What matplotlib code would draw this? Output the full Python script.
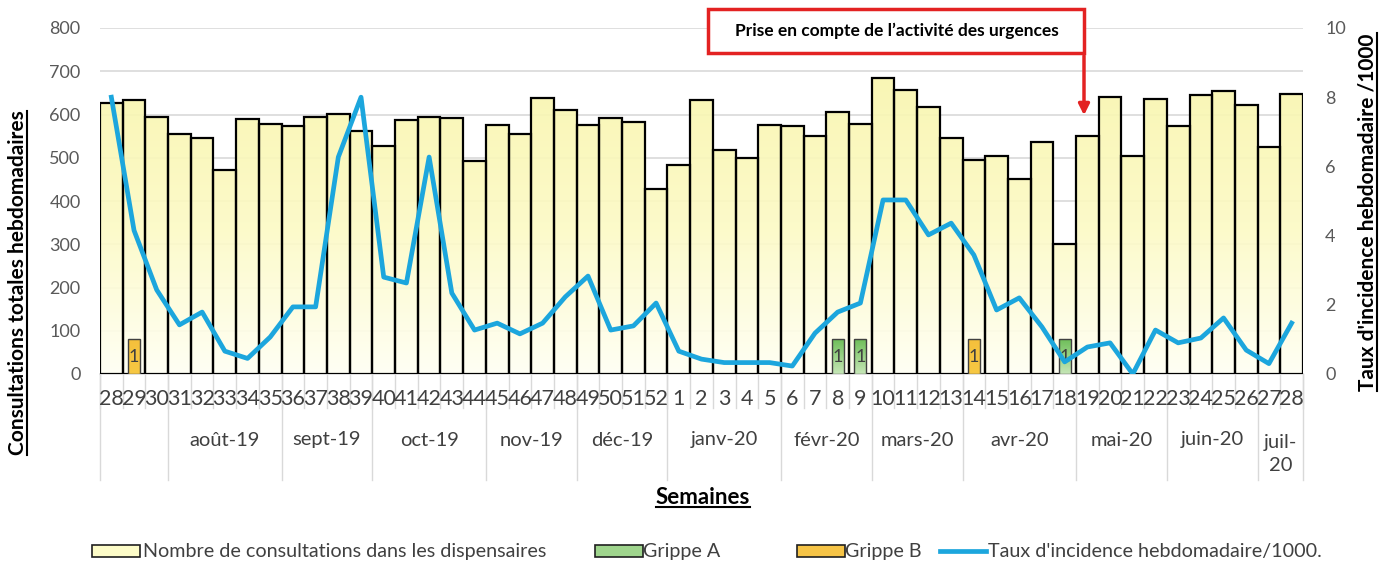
import numpy as np
import matplotlib
matplotlib.use('Agg')
import matplotlib.pyplot as plt
from matplotlib.path import Path
from matplotlib.patches import PathPatch, Rectangle, FancyArrowPatch
from matplotlib.colors import LinearSegmentedColormap
from matplotlib.lines import Line2D

plt.rcParams['font.family'] = ['Lato', 'DejaVu Sans']

# semaines 28/2019 -> 28/2020
weeks = [str(w) for w in range(28, 53)] + [str(w) for w in range(1, 29)]
consultations = [627, 633, 594, 555, 545, 472, 590, 577, 573, 595, 602, 563, 528,
                 587, 594, 593, 493, 576, 556, 637, 610, 575, 593, 583, 428,
                 484, 633, 519, 500, 575, 573, 550, 605, 579, 684, 657, 617, 546,
                 495, 505, 450, 537, 300, 550, 640, 504, 636, 573, 644, 654, 622,
                 525, 647]
incidence = [8.0, 4.15, 2.43, 1.42, 1.79, 0.66, 0.45, 1.07, 1.94, 1.94, 6.27, 8.0,
             2.8, 2.63, 6.27, 2.34, 1.27, 1.47, 1.16, 1.47, 2.23, 2.83, 1.27, 1.39,
             2.05,
             0.66, 0.43, 0.33, 0.33, 0.33, 0.23, 1.18, 1.79, 2.05, 5.03, 5.03, 4.02,
             4.36, 3.44, 1.85, 2.2, 1.36, 0.35, 0.78, 0.9, 0.0, 1.27, 0.9, 1.04,
             1.62, 0.69, 0.3, 1.47]
# nombre de prelevements positifs par semaine (index dans weeks)
grippe_a = {32: 1, 33: 1, 42: 1}
grippe_b = {1: 1, 38: 1}
grippe_height = 80  # hauteur des barres grippe sur l'axe de gauche

months = ['', 'août-19', 'sept-19', 'oct-19', 'nov-19', 'déc-19', 'janv-20',
          'févr-20', 'mars-20', 'avr-20', 'mai-20', 'juin-20', 'juil-\n20']
month_len = [3, 5, 4, 5, 4, 4, 5, 4, 4, 5, 4, 4, 2]

W, H = 1381, 567
def fx(px):
    return px / W
def fy(py):
    return 1 - py / H

fig = plt.figure(figsize=(13.81, 5.67), dpi=100)
ax = fig.add_axes([fx(100), fy(374), fx(1303) - fx(100), fy(28) - fy(374)])
x = np.arange(len(weeks))

# grille
for v in range(100, 900, 100):
    ax.axhline(v, color='#d9d9d9', lw=1.2, zorder=1)

bars = ax.bar(x, consultations, width=1.0, facecolor='none', edgecolor='black',
              lw=1.6, zorder=3)
paths = [b.get_path().transformed(b.get_patch_transform()) for b in bars]
clip = PathPatch(Path.make_compound_path(*paths), transform=ax.transData)
cmap = LinearSegmentedColormap.from_list('y', ['#fffff3', '#fcfac4', '#f9f6ae'])
im = ax.imshow(np.linspace(0, 1, 200).reshape(-1, 1), extent=[-0.5, 52.5, 0, 700],
               aspect='auto', cmap=cmap, origin='lower', alpha=0.92, zorder=2)
im.set_clip_path(clip)

# barres grippe
for d, col in [(grippe_a, ['#c5e6b6', '#6fbf5a']), (grippe_b, ['#f7c843', '#f5c03c'])]:
    cm = LinearSegmentedColormap.from_list('g', col)
    for i, n in d.items():
        b = ax.bar(i, n * grippe_height, width=0.52, facecolor='none',
                   edgecolor='#404040', lw=1.0, zorder=5)[0]
        g = ax.imshow(np.linspace(0, 1, 50).reshape(-1, 1),
                      extent=[i - 0.26, i + 0.26, 0, n * grippe_height],
                      aspect='auto', cmap=cm, origin='lower', zorder=4)
        g.set_clip_path(b)
        ax.text(i, n * grippe_height * 0.5, str(n), ha='center', va='center',
                fontsize=13, color='#404040', zorder=6)

ax.set_xlim(-0.5, 52.5)
ax.set_ylim(0, 800)
ax.set_yticks(range(0, 900, 100))
ax.tick_params(axis='y', length=0, pad=14, labelsize=13, labelcolor='#595959')
ax.set_xticks([])
for s in ['left', 'right', 'top']:
    ax.spines[s].set_visible(False)
ax.spines['bottom'].set_color('#d9d9d9')
ax.spines['bottom'].set_linewidth(1.2)

# axe x a deux niveaux
tr = ax.get_xaxis_transform()
ppx = 1 / 346.0
for i, w in enumerate(weeks):
    ax.text(i, -25 * ppx, w, transform=tr, ha='center', va='center',
            fontsize=15.5, color='#404040')
for i in range(len(weeks) + 1):
    ax.add_line(Line2D([i - 0.5, i - 0.5], [0, -34 * ppx], transform=tr,
                       color='#d9d9d9', lw=1, clip_on=False))
start = 0
for m, n in zip(months, month_len):
    ax.add_line(Line2D([start - 0.5, start - 0.5], [0, -106 * ppx], transform=tr,
                       color='#d9d9d9', lw=1, clip_on=False))
    yy = -66 * ppx if '\n' not in m else -80 * ppx
    ax.text(start + (n - 1) / 2, yy, m, transform=tr, ha='center', va='center',
            fontsize=14.5, color='#404040', linespacing=1.4)
    start += n
ax.add_line(Line2D([52.5, 52.5], [0, -106 * ppx], transform=tr,
                   color='#d9d9d9', lw=1, clip_on=False))

# taux d'incidence
ax2 = ax.twinx()
ax2.plot(x, incidence, color='#1ca6dd', lw=3.4, zorder=7, solid_joinstyle='round')
ax2.set_ylim(0, 10)
ax2.set_yticks(range(0, 11, 2))
ax2.tick_params(axis='y', length=0, pad=16, labelsize=13, labelcolor='#595959')
for s in ax2.spines.values():
    s.set_visible(False)
ax2.patch.set_visible(False)

# titres d'axes
t_left = fig.text(fx(18), fy(283), 'Consultations totales hebdomadaires', rotation=90,
                  ha='center', va='center', fontsize=15, fontweight='bold')
t_right = fig.text(fx(1368), fy(212), "Taux d'incidence hebdomadaire /1000", rotation=90,
                   ha='center', va='center', fontsize=15, fontweight='bold')
t_x = fig.text(fx(703), fy(497), 'Semaines', ha='center', va='center',
               fontsize=16, fontweight='bold')

# encadre urgences
fig.add_artist(Rectangle((fx(708), fy(53)), fx(1084) - fx(708), fy(9) - fy(53),
                         transform=fig.transFigure, facecolor='white',
                         edgecolor='#e32222', lw=2.5, zorder=10))
fig.text(fx(897), fy(31), "Prise en compte de l\u2019activité des urgences",
         ha='center', va='center', fontsize=12.5, fontweight='bold', zorder=11)
fig.add_artist(FancyArrowPatch((fx(1084), fy(53)), (fx(1084), fy(118)),
                               transform=fig.transFigure, arrowstyle='-|>',
                               mutation_scale=16, color='#e32222', lw=2.5, zorder=10))

# legende
ly = 551
lfs = 14.2
def leg_box(x0, fc):
    fig.add_artist(Rectangle((fx(x0), fy(ly + 6)), fx(48), 12 / H,
                             transform=fig.transFigure, facecolor=fc,
                             edgecolor='#202020', lw=1.2))
leg_box(92, '#fdfcc8')
fig.text(fx(143), fy(ly), 'Nombre de consultations dans les dispensaires',
         va='center', fontsize=lfs, color='#404040')
leg_box(595, '#9fd58d')
fig.text(fx(643), fy(ly), 'Grippe A', va='center', fontsize=lfs, color='#404040')
leg_box(797, '#f6c446')
fig.text(fx(845), fy(ly), 'Grippe B', va='center', fontsize=lfs, color='#404040')
fig.add_artist(Line2D([fx(940), fx(986)], [fy(ly), fy(ly)], transform=fig.transFigure,
                      color='#1ca6dd', lw=3.4))
fig.text(fx(988), fy(ly), "Taux d'incidence hebdomadaire/1000.", va='center',
         fontsize=lfs, color='#404040')

# soulignements
fig.canvas.draw()
r = fig.canvas.get_renderer()
inv = fig.transFigure.inverted()
for t, vert in [(t_left, True), (t_right, True), (t_x, False)]:
    bb = t.get_window_extent(r)
    if vert:
        p = inv.transform([[bb.x1 - 1, bb.y0], [bb.x1 - 1, bb.y1]])
    else:
        p = inv.transform([[bb.x0, bb.y0 + 1], [bb.x1, bb.y0 + 1]])
    fig.add_artist(Line2D(p[:, 0], p[:, 1], transform=fig.transFigure,
                          color='black', lw=1.5))

fig.savefig('out.png', dpi=100)
